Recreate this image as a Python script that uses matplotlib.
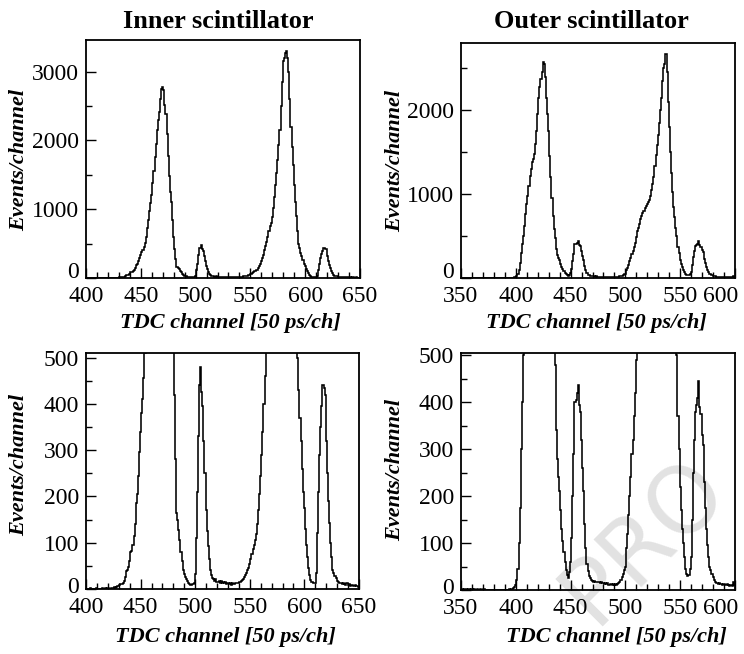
import numpy as np
import matplotlib
matplotlib.use("Agg")
import matplotlib.pyplot as plt
import matplotlib.transforms as mtransforms
from matplotlib.ticker import MultipleLocator

# ---------------- data (events per TDC channel) ----------------
inner_first_channel = 400
inner_counts = [
    0, 1, 0, 0, 2, 0, 1, 0, 0, 1,            # 400-409
    2, 0, 1, 1, 0, 2, 1, 0, 2, 1,            # 410-419
    2, 3, 1, 2, 3, 2, 4, 3, 5, 6,            # 420-429
    7, 8, 10, 11, 14, 18, 25, 38, 42, 48,    # 430-439
    60, 80, 82, 95, 115, 140, 185, 205, 245, 295,          # 440-449
    340, 380, 410, 455, 510, 600, 720, 850, 980, 1090,     # 450-459
    1200, 1380, 1560, 1760, 1950, 2150, 2300, 2420, 2600, 2750,  # 460-469
    2780, 2740, 2520, 2380, 2100, 1780, 1480, 1250, 1100, 850,   # 470-479
    600, 420, 280, 165, 150, 128, 105, 80, 60, 42,         # 480-489
    33, 26, 22, 17, 14, 11, 9, 8, 11, 14,                  # 490-499
    32, 110, 210, 330, 440, 480, 425, 395, 320, 250,       # 500-509
    170, 125, 92, 65, 42, 30, 24, 21, 18, 22,              # 510-519
    16, 15, 18, 14, 17, 13, 16, 12, 15, 11,                # 520-529
    14, 10, 12, 9, 13, 10, 11, 12, 13, 12,                 # 530-539
    14, 15, 17, 19, 22, 26, 30, 34, 40, 46,                # 540-549
    54, 65, 76, 86, 95, 105, 118, 140, 170, 205,           # 550-559
    245, 290, 340, 400, 460, 520, 600, 680, 750, 800,      # 560-569
    880, 1020, 1180, 1350, 1520, 1720, 1930, 2150, 2500, 2850,   # 570-579
    3150, 3200, 3270, 3300, 3200, 3000, 2600, 2200, 1900, 1650,  # 580-589
    1350, 1100, 900, 680, 500, 430, 370, 320, 260, 210,    # 590-599
    175, 130, 95, 70, 45, 30, 20, 16, 14, 13,              # 600-609
    14, 34, 120, 210, 290, 350, 395, 440, 435, 420,        # 610-619
    320, 250, 190, 142, 100, 70, 42, 35, 28, 24,           # 620-629
    18, 16, 14, 12, 13, 11, 12, 10, 9, 12,                 # 630-639
    8, 10, 7, 9, 8, 6, 7, 8, 6, 7,                         # 640-649
    5,                                                     # 650
]

outer_first_channel = 350
outer_counts = [
    2, 3, 1, 2, 3, 2, 1, 2, 2, 1,            # 350-359
    2, 1, 2, 1, 1, 2, 1, 1, 2, 1,            # 360-369
    1, 2, 1, 1, 0, 1, 1, 0, 1, 1,            # 370-379
    0, 1, 1, 0, 1, 0, 1, 1, 0, 1,            # 380-389
    1, 0, 1, 1, 2, 1, 2, 3, 5, 6,            # 390-399
    10, 22, 45, 100, 175, 300, 400, 500, 620, 760,         # 400-409
    880, 980, 1100, 1220, 1300, 1380, 1420, 1480, 1600, 1750,    # 410-419
    1950, 2150, 2280, 2370, 2450, 2570, 2550, 2400, 2150, 1950,  # 420-429
    1750, 1450, 1200, 950, 740, 580, 480, 340, 280, 240,   # 430-439
    210, 170, 130, 105, 80, 60, 42, 32, 25, 38,            # 440-449
    60, 110, 200, 290, 400, 405, 420, 437, 395, 380,       # 450-459
    320, 260, 210, 140, 90, 56, 40, 30, 25, 22,            # 460-469
    20, 18, 19, 17, 18, 16, 17, 15, 16, 14,                # 470-479
    15, 13, 14, 12, 14, 11, 13, 12, 10, 12,                # 480-489
    11, 13, 10, 12, 14, 18, 22, 28, 35, 42,                # 490-499
    50, 90, 120, 160, 200, 240, 290, 320, 370, 420,        # 500-509
    490, 560, 600, 640, 700, 740, 780, 800, 830, 860,      # 510-519
    880, 900, 930, 980, 1050, 1120, 1200, 1330, 1460, 1580,      # 520-529
    1700, 1850, 2000, 2150, 2350, 2500, 2550, 2670, 2450, 2100,  # 530-539
    1800, 1500, 1250, 1020, 850, 730, 600, 500, 370, 300,  # 540-549
    220, 170, 130, 100, 70, 45, 35, 30, 32, 45,            # 550-559
    70, 150, 250, 320, 380, 395, 410, 445, 390, 375,       # 560-569
    330, 310, 230, 175, 130, 95, 70, 50, 42, 35,           # 570-579
    28, 22, 18, 15, 14, 13, 14, 12, 13, 11,                # 580-589
    12, 10, 11, 12, 10, 9, 11, 10, 9, 18,                  # 590-599
    10,                                                    # 600
]

titles = ["Inner scintillator", "Outer scintillator"]
x_label = "TDC channel [50 ps/ch]"
y_label = "Events/channel"
watermark = "PRO"
inner_xlim = (400, 650)
outer_xlim = (350, 600)
inner_top_ylim = (0, 3460)
outer_top_ylim = (0, 2800)
zoom_ylim_inner = (0, 510)
zoom_ylim_outer = (0, 505)

# ---------------- figure ----------------
W, H = 744, 654
plt.rcParams['font.family'] = ['Liberation Serif', 'DejaVu Serif']
fig = plt.figure(figsize=(W / 100, H / 100), dpi=100)
fig.patch.set_facecolor('white')

def px_rect(left, top, right, bottom):
    return [left / W, 1 - bottom / H, (right - left) / W, (bottom - top) / H]

def px_shift(dx, dy):
    return mtransforms.ScaledTranslation(dx / 100, dy / 100, fig.dpi_scale_trans)

# watermark behind everything
fig.text(594 / W, 1 - 626 / H, watermark, rotation=45, rotation_mode='anchor',
         ha='left', va='baseline', fontsize=66, color='#e2e2e2',
         family='DejaVu Sans', zorder=-5)

panels = [
    # rect, first channel, counts, xlim, ylim, y-major, y-minor, lift of the 0 label (px)
    (px_rect(86, 40, 360, 278), inner_first_channel, inner_counts, inner_xlim, inner_top_ylim, 1000, 500, 8),
    (px_rect(461, 43, 735, 278), outer_first_channel, outer_counts, outer_xlim, outer_top_ylim, 1000, 500, 8),
    (px_rect(86, 353, 359, 589), inner_first_channel, inner_counts, inner_xlim, zoom_ylim_inner, 100, 50, 4),
    (px_rect(461, 353, 735, 590), outer_first_channel, outer_counts, outer_xlim, zoom_ylim_outer, 100, 50, 4),
]

all_axes = []
for i, (rect, first, counts, xlim, ylim, ymaj, ymin, lift) in enumerate(panels):
    ax = fig.add_axes(rect)
    ax.patch.set_alpha(0)
    counts = np.asarray(counts, dtype=float)
    edges = np.arange(first - 0.5, first + len(counts) + 0.5, 1.0)
    ax.stairs(counts, edges, color='black', linewidth=1.15)
    ax.set_xlim(*xlim)
    ax.set_ylim(*ylim)
    ax.xaxis.set_major_locator(MultipleLocator(50))
    ax.xaxis.set_minor_locator(MultipleLocator(10))
    ax.yaxis.set_major_locator(MultipleLocator(ymaj))
    ax.yaxis.set_minor_locator(MultipleLocator(ymin))
    ax.tick_params(which='both', direction='in', top=False, right=False,
                   labelsize=17, color='black')
    ax.tick_params(which='major', length=7, width=1.0)
    ax.tick_params(which='minor', length=4, width=1.0)
    ax.tick_params(axis='x', pad=6)
    ax.tick_params(axis='y', pad=5)
    for sp in ax.spines.values():
        sp.set_linewidth(1.3)
    all_axes.append((ax, lift, i in (1, 3)))

fig.canvas.draw()
for ax, lift, is_right in all_axes:
    locs = list(ax.get_yticks())
    yticks = ax.yaxis.get_major_ticks(len(locs))
    t0 = yticks[locs.index(0)].label1
    t0.set_transform(t0.get_transform() + px_shift(0, lift))
    if is_right:
        xlocs = list(ax.get_xticks())
        xticks = ax.xaxis.get_major_ticks(len(xlocs))
        last = xticks[xlocs.index(600)].label1
        last.set_transform(last.get_transform() + px_shift(-14, 0))

# titles
fig.text(218 / W, 1 - 21 / H, titles[0], ha='center', va='center',
         fontsize=19, fontweight='bold')
fig.text(591 / W, 1 - 21 / H, titles[1], ha='center', va='center',
         fontsize=19, fontweight='bold')

# axis labels
lab_kw = dict(fontsize=16, fontweight='bold', fontstyle='italic')
for (xc, yc) in [(230, 323), (596, 323), (225, 637), (616, 637)]:
    fig.text(xc / W, 1 - yc / H, x_label, ha='center', va='center', **lab_kw)
for (xc, yc) in [(19, 160), (395, 161), (19, 465), (395, 470)]:
    fig.text(xc / W, 1 - yc / H, y_label, ha='center', va='center',
             rotation=90, **lab_kw)

fig.savefig("out.png", dpi=100, facecolor='white')
